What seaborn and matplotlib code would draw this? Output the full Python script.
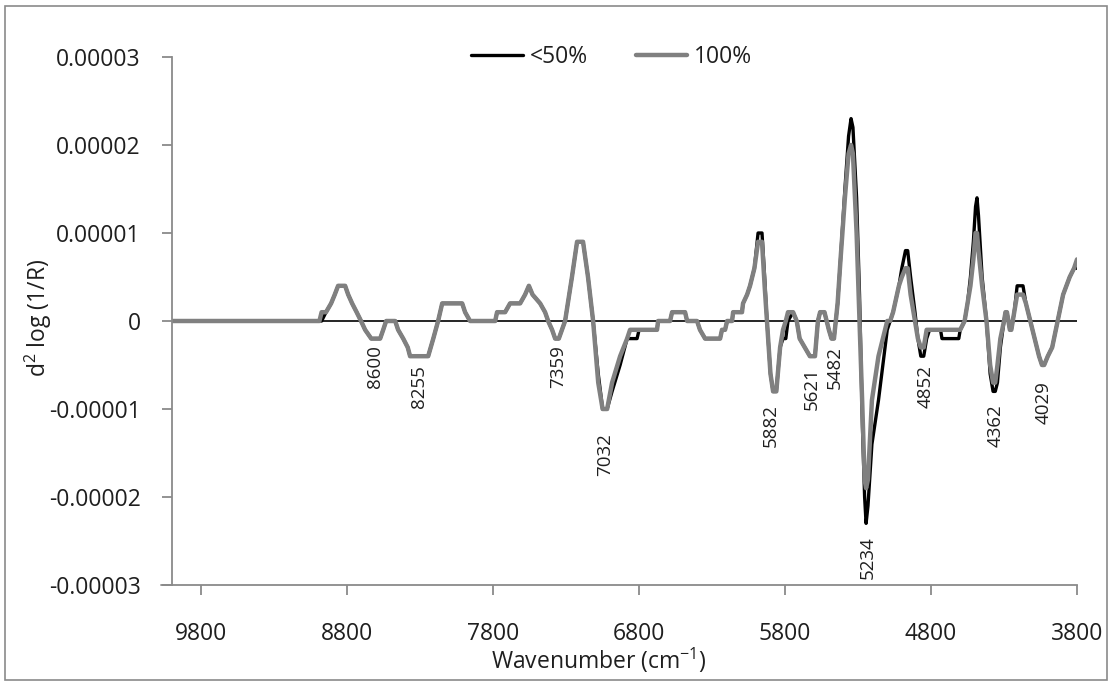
import numpy as np
import pandas as pd
import seaborn as sns
import matplotlib.pyplot as plt
from matplotlib.patches import Rectangle
from matplotlib.lines import Line2D

# wavenumber (cm-1) and 2nd derivative values (in units of 1e-6)
wavenumber = [10000, 8990, 8975, 8945, 8910, 8885, 8862, 8814, 8793, 8766, 8735, 8705, 8677, 8635,
              8574, 8553, 8533, 8471, 8451, 8416, 8385, 8369, 8245, 8210, 8177, 8149, 8012, 7992,
              7958, 7786, 7773, 7718, 7684, 7615, 7581, 7555, 7530, 7478, 7444, 7423, 7396, 7375,
              7350, 7307, 7260, 7225, 7184, 7150, 7115, 7080, 7050, 7019, 6985, 6930, 6882, 6862,
              6814, 6800, 6677, 6670, 6588, 6574, 6485, 6471, 6403, 6383, 6348, 6245, 6232, 6211,
              6197, 6163, 6156, 6095, 6088, 6060, 6040, 6010, 5985, 5958, 5940, 5924, 5900, 5882,
              5860, 5834, 5814, 5795, 5780, 5745, 5720, 5700, 5665, 5630, 5595, 5575, 5560, 5530,
              5500, 5482, 5465, 5440, 5420, 5390, 5365, 5348, 5335, 5310, 5290, 5270, 5255, 5245,
              5232, 5205, 5160, 5115, 5100, 5080, 5060, 5020, 5000, 4975, 4960, 4940, 4910, 4890,
              4870, 4850, 4830, 4810, 4735, 4725, 4610, 4600, 4570, 4550, 4530, 4510, 4495, 4485,
              4475, 4450, 4420, 4395, 4375, 4360, 4345, 4325, 4300, 4290, 4280, 4260, 4250, 4230,
              4210, 4170, 4150, 4120, 4090, 4060, 4040, 4025, 4000, 3970, 3945, 3920, 3895, 3850,
              3820, 3800]

d2_100 = [0, 0, 1, 1, 2, 3, 4, 4, 3, 2, 1, 0, -1, -2,
          -2, -1, 0, 0, -1, -2, -3, -4, -4, -2, 0, 2, 2, 1,
          0, 0, 1, 1, 2, 2, 3, 4, 3, 2, 1, 0, -1, -2,
          -2, 0, 5, 9, 9, 5, 0, -7, -10, -10, -7, -4, -2, -1,
          -1, -1, -1, 0, 0, 1, 1, 0, 0, -1, -2, -2, -1, -1,
          0, 0, 1, 1, 2, 3, 4, 6, 9, 9, 4, 0, -6, -8,
          -8, -3, -1, 0, 1, 1, 0, -2, -3, -4, -4, 0, 1, 1,
          -1, -2, -2, 2, 7, 14, 19, 20, 19, 10, 0, -10, -18, -19,
          -18, -9, -4, -1, 0, 0, 1, 4, 5, 6, 6, 3, 0, -2,
          -3, -3, -1, -1, -1, -1, -1, -1, 0, 2, 4, 7, 10, 10,
          8, 4, 0, -5, -7, -7, -5, -2, 0, 1, 1, -1, -1, 1,
          3, 3, 2, 0, -2, -4, -5, -5, -4, -3, -1, 1, 3, 5,
          6, 7]

d2_50 = [0, 0, 0, 1, 2, 3, 4, 4, 3, 2, 1, 0, -1, -2,
         -2, -1, 0, 0, -1, -2, -3, -4, -4, -2, 0, 2, 2, 1,
         0, 0, 1, 1, 2, 2, 3, 4, 3, 2, 1, 0, -1, -2,
         -2, 0, 5, 9, 9, 5, 0, -6, -10, -10, -8, -5, -2, -2,
         -2, -1, -1, 0, 0, 1, 1, 0, 0, -1, -2, -2, -1, -1,
         0, 0, 1, 1, 2, 3, 4, 6, 10, 10, 5, 0, -6, -8,
         -8, -3, -2, -2, 0, 1, 0, -2, -3, -4, -4, 0, 1, 1,
         -1, -2, -2, 2, 7, 15, 21, 23, 22, 14, 3, -12, -20, -23,
         -21, -14, -9, -3, -1, 0, 1, 4, 6, 8, 8, 5, 1, -2,
         -4, -4, -2, -1, -1, -2, -2, -1, 0, 2, 5, 9, 13, 14,
         12, 5, 0, -6, -8, -8, -7, -3, 0, 1, 1, -1, -1, 1,
         4, 4, 2, 0, -2, -4, -5, -5, -4, -3, -1, 1, 3, 5,
         6, 6]

series_names = ["<50%", "100%"]

peak_labels = ["8600", "8255", "7359", "7032", "5882", "5621", "5482", "5234", "4852", "4362", "4029"]
peak_label_x = [8608, 8307, 7355, 7033, 5896, 5615, 5458, 5232, 4834, 4355, 4026]
peak_label_y = [-2.7, -5.0, -2.7, -12.8, -9.5, -5.2, -2.8, -24.5, -5.0, -9.5, -6.8]

x_ticks = [9800, 8800, 7800, 6800, 5800, 4800, 3800]
y_ticks = [-3e-5, -2e-5, -1e-5, 0, 1e-5, 2e-5, 3e-5]
y_tick_labels = ["-0.00003", "-0.00002", "-0.00001", "0", "0.00001", "0.00002", "0.00003"]

df = pd.DataFrame({
    "wavenumber": wavenumber * 2,
    "d2": np.array(d2_50 + d2_100) * 1e-6,
    "sample": [series_names[0]] * len(d2_50) + [series_names[1]] * len(d2_100),
})

sns.set_style("white")
plt.rcParams["font.family"] = ["Open Sans", "DejaVu Sans"]
plt.rcParams["mathtext.fontset"] = "custom"
plt.rcParams["mathtext.rm"] = "Open Sans"
plt.rcParams["mathtext.it"] = "Open Sans:italic"
plt.rcParams["mathtext.bf"] = "Open Sans:bold"

txt = "#1f1f1f"
axis_gray = "#8a8a8a"

fig = plt.figure(figsize=(11.12, 6.84), dpi=100)
ax = fig.add_axes([172 / 1112, 1 - 585 / 684, 905 / 1112, 528 / 684])

# black first, gray on top
sns.lineplot(data=df[df["sample"] == "<50%"], x="wavenumber", y="d2", color="black",
             linewidth=2.4, label="<50%", ax=ax)
sns.lineplot(data=df[df["sample"] == "100%"], x="wavenumber", y="d2", color="#808080",
             linewidth=3.2, label="100%", ax=ax)
ax.axhline(0, color="black", linewidth=1.2, zorder=1)

ax.set_xlim(10000, 3800)
ax.set_ylim(-3e-5, 3e-5)
ax.set_xticks(x_ticks)
ax.set_xticklabels([str(t) for t in x_ticks])
ax.set_yticks(y_ticks)
ax.set_yticklabels(y_tick_labels)

for s in ["top", "right"]:
    ax.spines[s].set_visible(False)
for s in ["left", "bottom"]:
    ax.spines[s].set_color(axis_gray)
    ax.spines[s].set_linewidth(1.3)
# excel style: x axis line pokes out a bit left of the y axis
ax.add_line(Line2D([-0.012, 0], [0, 0], transform=ax.transAxes, color=axis_gray,
                   linewidth=1.3, clip_on=False))

ax.tick_params(axis="y", length=7.5, width=1.3, color=axis_gray, pad=15,
               labelsize=16.5, labelcolor=txt, left=True)
ax.tick_params(axis="x", length=7.5, width=1.3, color=axis_gray, pad=19,
               labelsize=16.5, labelcolor=txt, bottom=True)

ax.set_xlabel(r"Wavenumber (cm$^{-1}$)", fontsize=16.5, color=txt)
ax.set_ylabel(r"d$^{2}$ log (1/R)", fontsize=16.5, color=txt)
ax.xaxis.set_label_coords(0.472, -0.142)
ax.xaxis.label.set_va("center")
ax.yaxis.set_label_coords(-0.148, 0.506)
ax.yaxis.label.set_va("center")

for lab, lx, ly in zip(peak_labels, peak_label_x, peak_label_y):
    ax.text(lx, ly * 1e-6, lab, rotation=90, ha="center", va="top",
            fontsize=13.5, color=txt)

ax.legend(loc="center", bbox_to_anchor=(0.486, 1.0), ncol=2, frameon=False,
          fontsize=16.5, handlelength=2.25, handletextpad=0.3, columnspacing=2.1,
          labelcolor=txt)

# chart area border
fig.patches.append(Rectangle((5 / 1112, 1 - 680 / 684), 1102 / 1112, 674 / 684,
                             transform=fig.transFigure, fill=False,
                             edgecolor=axis_gray, linewidth=1.2))

fig.savefig("out.png", dpi=100)
